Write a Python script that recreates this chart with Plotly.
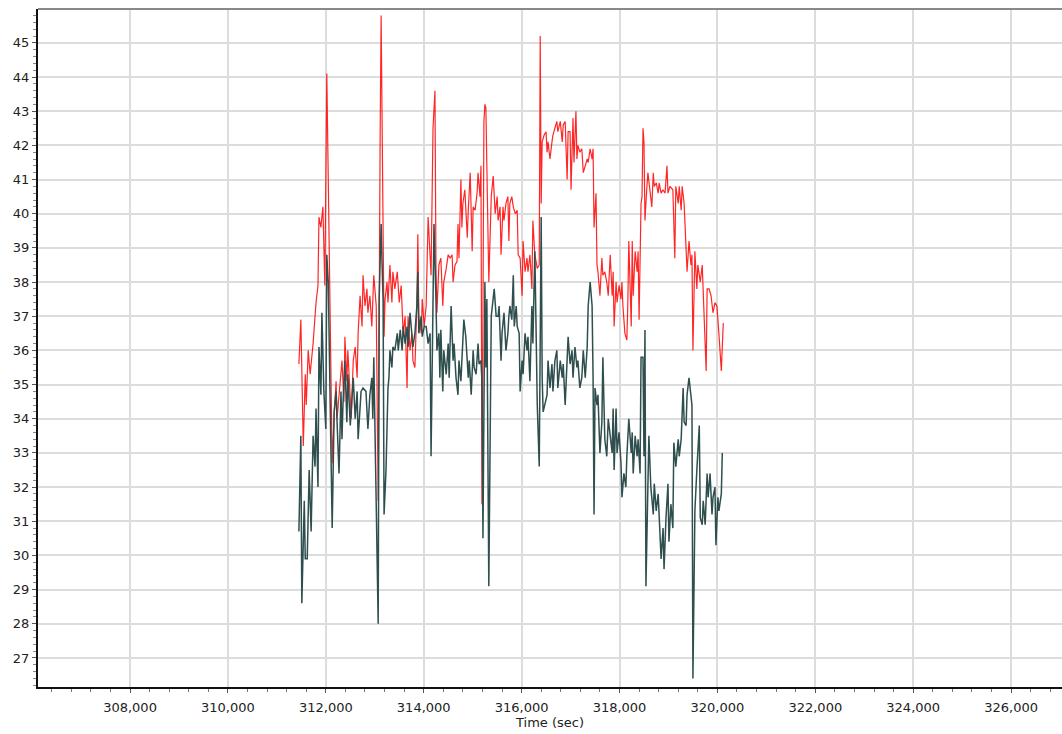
import plotly.graph_objects as go

# Red series (time in seconds, value)
red_t = [311450, 311490, 311540, 311580, 311600, 311640, 311680, 311720, 311740, 311800,
         311840, 311860, 311900, 311940, 311980, 312020, 312130, 312170, 312210, 312230,
         312290, 312330, 312370, 312390, 312430, 312450, 312520, 312560, 312600, 312640,
         312660, 312700, 312740, 312760, 312800, 312840, 312860, 312900, 312940, 312980,
         313030, 313070, 313110, 313130, 313190, 313210, 313250, 313270, 313310, 313350,
         313370, 313410, 313460, 313500, 313540, 313580, 313620, 313660, 313680, 313720,
         313760, 313780, 313820, 313860, 313880, 313900, 313950, 313970, 314010, 314050,
         314090, 314150, 314190, 314230, 314250, 314270, 314310, 314350, 314390, 314410,
         314460, 314500, 314540, 314580, 314600, 314640, 314680, 314700, 314720, 314760,
         314780, 314800, 314840, 314890, 314910, 314950, 314990, 315010, 315050, 315090,
         315110, 315150, 315170, 315190, 315230, 315250, 315270, 315330, 315380, 315420,
         315460, 315500, 315520, 315560, 315580, 315620, 315640, 315680, 315720, 315740,
         315760, 315800, 315830, 315870, 315910, 315930, 315970, 316010, 316030, 316070,
         316110, 316130, 316170, 316210, 316230, 316270, 316320, 316360, 316380, 316400,
         316420, 316460, 316500, 316520, 316540, 316580, 316620, 316640, 316680, 316720,
         316740, 316790, 316830, 316850, 316890, 316930, 316950, 316990, 317010, 317050,
         317070, 317110, 317130, 317150, 317190, 317230, 317260, 317300, 317340, 317360,
         317400, 317440, 317460, 317480, 317520, 317540, 317560, 317600, 317640, 317660,
         317700, 317740, 317770, 317810, 317850, 317870, 317890, 317930, 317950, 317990,
         318030, 318050, 318070, 318110, 318150, 318170, 318190, 318240, 318260, 318280,
         318320, 318360, 318380, 318400, 318440, 318460, 318480, 318500, 318520, 318560,
         318580, 318620, 318660, 318690, 318710, 318750, 318790, 318810, 318850, 318890,
         318930, 318970, 318990, 319030, 319090, 319130, 319150, 319200, 319220, 319260,
         319280, 319320, 319360, 319380, 319420, 319460, 319480, 319500, 319540, 319580,
         319600, 319650, 319690, 319710, 319770, 319790, 319830, 319870, 319910, 319950,
         319990, 320030, 320080, 320120]
red_v = [35.6, 36.9, 33.2, 35.3, 34.4, 36.0, 35.3, 35.8, 36.2, 37.4,
         37.9, 39.9, 39.6, 40.2, 37.9, 44.1, 32.7, 34.1, 35.1, 34.0,
         34.9, 35.7, 34.5, 36.4, 35.1, 36.0, 34.0, 35.7, 36.1, 35.2,
         36.5, 37.6, 36.7, 38.2, 37.3, 37.8, 37.1, 37.6, 36.7, 38.2,
         37.3, 31.6, 42.3, 45.8, 36.4, 37.5, 38.0, 37.4, 38.5, 37.4,
         38.3, 37.8, 38.3, 37.4, 37.9, 36.5, 37.0, 34.9, 37.0, 36.0,
         36.5, 35.7, 35.5, 37.3, 39.4, 37.0, 36.5, 37.5, 36.7, 37.3,
         39.9, 38.2, 42.5, 43.6, 38.5, 37.1, 38.5, 38.7, 37.3, 38.0,
         38.4, 38.8, 38.7, 38.8, 38.0, 38.5, 38.6, 39.7, 38.7, 41.0,
         39.6, 40.3, 40.7, 39.3, 40.1, 41.2, 38.9, 40.2, 40.1, 40.6,
         41.2, 40.5, 41.4, 31.5, 42.7, 43.2, 43.1, 38.0, 40.5, 41.1,
         40.0, 40.5, 39.8, 40.2, 38.8, 40.2, 39.8, 40.3, 40.5, 39.2,
         40.3, 40.5, 40.2, 40.0, 40.1, 38.8, 38.7, 37.6, 39.2, 38.3,
         38.7, 38.3, 38.8, 37.8, 39.8, 38.8, 38.4, 38.5, 45.2, 40.3,
         42.1, 42.3, 42.4, 41.8, 42.1, 41.6, 42.1, 42.3, 42.5, 42.7,
         42.4, 42.7, 42.1, 42.6, 42.7, 41.0, 42.4, 42.4, 40.7, 42.8,
         41.5, 43.0, 41.6, 42.0, 41.8, 41.9, 41.2, 41.4, 41.6, 41.5,
         41.9, 41.6, 41.9, 39.6, 40.6, 38.5, 38.3, 37.6, 38.7, 38.2,
         38.3, 38.0, 37.6, 38.8, 37.6, 38.3, 36.7, 38.0, 37.4, 37.9,
         37.5, 38.0, 37.3, 36.5, 36.3, 37.4, 39.2, 36.7, 39.2, 37.6,
         38.9, 38.3, 38.9, 36.9, 40.3, 40.5, 42.5, 42.1, 39.8, 40.8,
         41.2, 40.7, 40.2, 41.2, 40.8, 40.9, 40.6, 40.9, 40.6, 40.7,
         40.6, 41.4, 40.6, 40.8, 40.7, 38.7, 40.8, 40.3, 40.8, 40.1,
         40.8, 40.3, 39.2, 38.3, 39.2, 38.5, 38.8, 36.0, 38.9, 37.8,
         38.5, 38.0, 38.5, 37.8, 35.4, 37.8, 37.8, 37.6, 37.1, 37.4,
         37.3, 36.5, 35.4, 36.8]

# Dark series (time in seconds, value)
dark_t = [311450, 311490, 311510, 311560, 311580, 311620, 311660, 311700, 311740, 311780,
          311800, 311840, 311860, 311900, 311920, 311960, 312000, 312020, 312050, 312090,
          312130, 312170, 312210, 312230, 312270, 312310, 312330, 312350, 312390, 312430,
          312450, 312500, 312540, 312560, 312600, 312640, 312660, 312720, 312760, 312820,
          312860, 312900, 312940, 312960, 312980, 313030, 313070, 313090, 313130, 313150,
          313170, 313190, 313230, 313270, 313290, 313310, 313350, 313370, 313410, 313460,
          313480, 313520, 313560, 313580, 313620, 313660, 313680, 313720, 313760, 313780,
          313820, 313860, 313880, 313900, 313950, 313970, 314010, 314050, 314090, 314130,
          314150, 314210, 314250, 314270, 314310, 314330, 314350, 314390, 314410, 314460,
          314500, 314520, 314560, 314600, 314620, 314660, 314700, 314720, 314760, 314800,
          314820, 314860, 314910, 314930, 314970, 315010, 315030, 315070, 315110, 315130,
          315170, 315190, 315210, 315250, 315270, 315290, 315330, 315380, 315420, 315440,
          315480, 315520, 315540, 315580, 315600, 315640, 315680, 315720, 315740, 315760,
          315800, 315830, 315850, 315890, 315910, 315950, 315970, 316010, 316030, 316070,
          316110, 316130, 316170, 316210, 316230, 316270, 316320, 316360, 316400, 316420,
          316440, 316480, 316520, 316540, 316580, 316620, 316640, 316680, 316720, 316740,
          316790, 316830, 316850, 316890, 316930, 316950, 316990, 317030, 317050, 317090,
          317130, 317150, 317190, 317230, 317260, 317300, 317340, 317360, 317400, 317440,
          317460, 317480, 317500, 317540, 317560, 317600, 317640, 317660, 317700, 317740,
          317770, 317810, 317850, 317870, 317890, 317930, 317950, 317990, 318030, 318050,
          318090, 318130, 318150, 318190, 318240, 318260, 318280, 318320, 318360, 318380,
          318420, 318440, 318480, 318500, 318520, 318540, 318580, 318600, 318640, 318690,
          318710, 318750, 318790, 318810, 318850, 318890, 318910, 318950, 318990, 319010,
          319050, 319090, 319110, 319150, 319200, 319220, 319260, 319300, 319320, 319360,
          319380, 319420, 319460, 319480, 319500, 319540, 319580, 319630, 319650, 319690,
          319710, 319750, 319790, 319810, 319850, 319890, 319910, 319950, 319970, 320010,
          320030, 320080, 320100]
dark_v = [30.7, 33.5, 28.6, 31.6, 29.9, 29.9, 32.5, 30.7, 33.5, 32.6,
          34.3, 32.0, 36.1, 34.7, 37.1, 34.8, 33.7, 38.8, 38.0, 34.2,
          30.8, 34.2, 34.8, 33.9, 32.4, 34.8, 33.4, 34.4, 35.7, 33.9,
          35.3, 33.8, 34.8, 35.2, 34.0, 34.8, 33.4, 34.8, 34.9, 34.8,
          33.7, 34.7, 35.2, 34.0, 35.8, 31.6, 28.0, 37.5, 39.7, 38.5,
          37.5, 31.2, 32.5, 34.9, 35.2, 36.0, 35.5, 36.1, 36.0, 36.5,
          36.0, 36.6, 36.0, 36.7, 36.2, 36.7, 36.1, 37.1, 36.5, 36.1,
          36.5, 37.3, 38.3, 36.5, 37.0, 36.4, 36.7, 36.7, 36.2, 36.5,
          32.9, 39.7, 37.5, 36.0, 36.5, 35.2, 36.6, 34.8, 36.0, 35.3,
          36.2, 35.2, 37.3, 35.7, 36.2, 35.2, 34.7, 35.7, 35.1, 36.1,
          36.9, 36.4, 35.2, 35.7, 34.7, 36.0, 35.5, 35.3, 36.2, 35.6,
          35.7, 35.1, 30.5, 38.0, 35.5, 37.5, 29.1, 37.0, 37.5, 37.8,
          37.0, 37.0, 37.3, 35.7, 36.5, 37.1, 36.0, 36.5, 37.0, 37.3,
          36.9, 38.2, 36.7, 37.3, 36.7, 36.5, 34.8, 35.7, 35.3, 36.5,
          36.0, 36.4, 35.1, 37.3, 36.2, 38.9, 34.4, 32.6, 39.9, 35.2,
          34.2, 34.5, 34.7, 35.7, 34.9, 35.6, 34.8, 35.7, 36.0, 34.9,
          35.7, 35.2, 35.6, 34.4, 35.5, 36.4, 35.6, 36.0, 35.2, 36.1,
          35.5, 35.7, 34.9, 35.2, 36.0, 35.2, 36.1, 37.3, 38.0, 37.3,
          35.2, 31.2, 34.9, 34.4, 34.7, 33.0, 33.9, 35.8, 33.4, 32.9,
          34.0, 33.5, 33.0, 34.3, 32.5, 34.3, 33.0, 33.6, 32.7, 31.7,
          32.4, 32.0, 32.9, 34.0, 33.0, 33.6, 32.4, 33.5, 32.9, 33.4,
          32.4, 35.8, 35.8, 32.9, 36.6, 29.1, 31.8, 33.5, 32.0, 31.2,
          32.1, 31.3, 31.8, 31.2, 29.9, 30.8, 29.6, 31.1, 32.1, 30.4,
          31.5, 30.8, 33.3, 32.6, 33.4, 32.9, 33.4, 34.9, 33.9, 33.8,
          34.7, 35.2, 34.5, 34.4, 26.4, 31.3, 32.5, 33.8, 31.1, 30.9,
          31.6, 30.9, 32.4, 31.7, 32.4, 31.2, 31.7, 32.0, 30.3, 31.7,
          31.3, 31.8, 33.0]

x_title = "Time (sec)"

fig = go.Figure()
fig.add_trace(go.Scatter(x=red_t, y=red_v, mode="lines",
                         line=dict(color="rgba(255,0,0,0.85)", width=1.2),
                         showlegend=False, hoverinfo="skip"))
fig.add_trace(go.Scatter(x=dark_t, y=dark_v, mode="lines",
                         line=dict(color="#2f4f4f", width=1.5),
                         showlegend=False, hoverinfo="skip"))

font_family = "DejaVu Sans, Verdana, sans-serif"
fig.update_layout(
    width=1062, height=734,
    margin=dict(l=38, r=0, t=9, b=47, autoexpand=False),
    paper_bgcolor="white", plot_bgcolor="white",
    font=dict(family=font_family, size=13, color="#222222"),
    xaxis=dict(
        automargin=False,
        range=[306120, 327040], tickmode="linear", tick0=308000, dtick=2000,
        tickformat=",d", showgrid=True, gridcolor="#dcdcdc", gridwidth=2,
        zeroline=False, showline=True, linecolor="#111111", linewidth=2,
        ticks="outside", ticklen=4, tickcolor="#555555", tickwidth=1,
        ticklabelstandoff=3,
        tickfont=dict(family=font_family, size=13, color="#222222"),
        minor=dict(dtick=400, tick0=308000, ticks="outside", ticklen=3,
                   tickcolor="#777777", showgrid=False),
        title=dict(text=x_title, standoff=3,
                   font=dict(family=font_family, size=13, color="#222222")),
    ),
    yaxis=dict(
        automargin=False,
        range=[26.15, 45.99], tickmode="linear", tick0=27, dtick=1,
        showgrid=True, gridcolor="#dcdcdc", gridwidth=2,
        zeroline=False, showline=True, linecolor="#111111", linewidth=2,
        ticks="outside", ticklen=4, tickcolor="#555555", tickwidth=1,
        tickfont=dict(family=font_family, size=13, color="#222222"),
        minor=dict(dtick=0.2, tick0=27, ticks="outside", ticklen=3,
                   tickcolor="#888888", showgrid=False),
    ),
    shapes=[dict(type="line", xref="paper", yref="paper", x0=0, x1=1, y0=1, y1=1,
                 line=dict(color="#888888", width=2))],
)

fig.write_html(
    "out.html",
    config={"displayModeBar": False, "staticPlot": True},
    post_script="document.body.style.margin='0px';document.body.style.overflow='hidden';",
)
